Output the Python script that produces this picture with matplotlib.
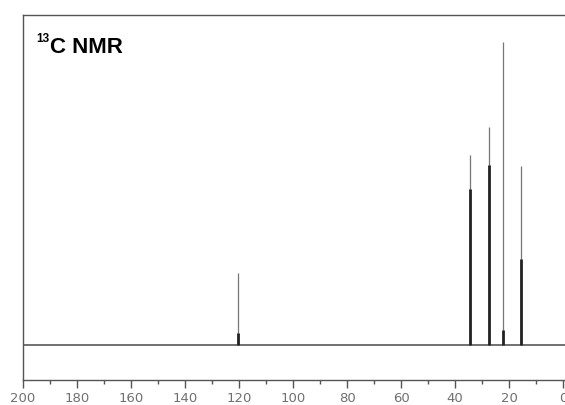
import numpy as np
import matplotlib
matplotlib.use("Agg")
import matplotlib.pyplot as plt

# peak positions (ppm) and heights (arbitrary units)
shifts = [120.2, 34.4, 27.6, 22.2, 15.6]
heights = [72, 190, 218, 303, 179]
# lower, darker part of each line in the scan
dark_heights = [12, 156, 180, 15, 86]

tick_values = np.arange(0, 201, 20)
tick_labels = [str(v) for v in tick_values]
minor_values = np.arange(10, 200, 20)

W, H = 565, 405
fig = plt.figure(figsize=(W / 100, H / 100), dpi=100)
fig.patch.set_facecolor("white")

# frame: left edge x=22.7px, top 15px, axis line 380px, runs off the right edge
ax = fig.add_axes([22.7 / W, (H - 380) / H, (W - 22.7) / W, (380 - 15) / H])
ax.set_xlim(200, 200 - (W - 22.7) / 2.703)
ax.set_ylim(-35, 330)

ax.axhline(0, color="#4a4a4a", lw=1.1, zorder=2)
ax.vlines(shifts, 0, heights, color="#777777", lw=0.9, zorder=3)
ax.vlines(shifts, 0, dark_heights, color="#222222", lw=2.0, zorder=4)

for side in ["left", "top", "bottom"]:
    ax.spines[side].set_color("#555555")
    ax.spines[side].set_linewidth(1.0)
ax.spines["right"].set_visible(False)

ax.set_yticks([])
ax.set_xticks(tick_values)
ax.set_xticklabels(tick_labels)
ax.set_xticks(minor_values, minor=True)
ax.tick_params(axis="x", which="major", direction="out", length=5.8, width=1.0,
               color="#555555", pad=3.2, labelsize=9.5, labelcolor="#707070")
ax.tick_params(axis="x", which="minor", direction="out", length=3.0, width=1.0,
               color="#555555")

fig.text(36.5 / W, (H - 41.7) / H, "13", fontsize=8.5, fontweight="bold",
         family="Liberation Sans", va="baseline", ha="left")
fig.text(49.8 / W, (H - 53.3) / H, "C NMR", fontsize=16, fontweight="bold",
         family="Liberation Sans", va="baseline", ha="left")

fig.savefig("out.png", dpi=100)
